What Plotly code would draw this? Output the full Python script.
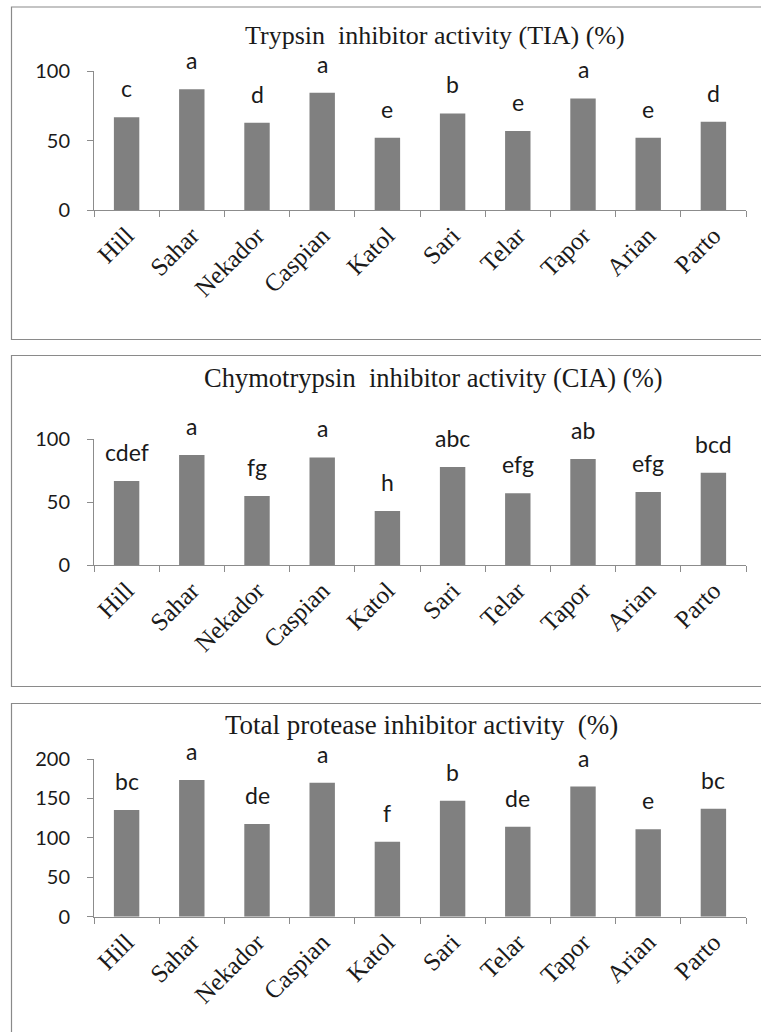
import plotly.graph_objects as go

W, H = 761, 1032

varieties = ["Hill", "Sahar", "Nekador", "Caspian", "Katol", "Sari", "Telar", "Tapor", "Arian", "Parto"]

tia_values = [66.7, 86.8, 62.8, 84.4, 52.0, 69.5, 56.8, 80.3, 52.0, 63.5]
tia_letters = ["c", "a", "d", "a", "e", "b", "e", "a", "e", "d"]

cia_values = [66.7, 87.3, 54.8, 85.4, 42.9, 77.8, 56.9, 84.1, 57.9, 73.3]
cia_letters = ["cdef", "a", "fg", "a", "h", "abc", "efg", "ab", "efg", "bcd"]

total_values = [135.4, 173.5, 117.6, 170.0, 95.2, 147.2, 114.2, 165.0, 110.9, 137.0]
total_letters = ["bc", "a", "de", "a", "f", "b", "de", "a", "e", "bc"]

titles = [
    "Trypsin  inhibitor activity (TIA) (%)",
    "Chymotrypsin  inhibitor activity (CIA) (%)",
    "Total protease inhibitor activity  (%)",
]
y_ranges = [[0, 100], [0, 100], [0, 200]]
y_ticks = [[0, 50, 100], [0, 50, 100], [0, 50, 100, 150, 200]]

# pixel geometry (top, bottom of plot area), title centre, title size, panel box
plot_px = [(71, 210), (439, 565), (759, 916.7)]
title_px = [(435, 36), (433, 378), (421, 725)]
title_size = [26, 26.5, 27]
box_px = [(7, 339.5), (355.5, 686.5), (703.5, 1045)]
x_px = (94, 746)

series = [(tia_values, tia_letters), (cia_values, cia_letters), (total_values, total_letters)]

BAR = "#808080"
AX = "#8c8c8c"
TXT = "#1a1a1a"
SERIF = "Liberation Serif, Times New Roman, serif"
SANS = "Lato, Open Sans, sans-serif"

fig = go.Figure()
layout = dict(
    template="none",
    width=W, height=H,
    margin=dict(l=0, r=0, t=0, b=0, pad=0),
    paper_bgcolor="white", plot_bgcolor="white",
    showlegend=False, bargap=0.61,
    annotations=[], shapes=[],
)

for i, ((vals, letters), title) in enumerate(zip(series, titles)):
    n = "" if i == 0 else str(i + 1)
    xa, ya = "x" + n, "y" + n
    fig.add_trace(go.Bar(
        x=varieties, y=vals, marker=dict(color=BAR, line=dict(width=0)),
        xaxis=xa, yaxis=ya, hoverinfo="skip",
    ))
    top, bot = plot_px[i]
    layout["xaxis" + n] = dict(
        domain=[x_px[0] / W, x_px[1] / W], anchor=ya, automargin=False,
        type="category", tickson="boundaries",
        showline=True, linecolor=AX, linewidth=1,
        ticks="outside", ticklen=6, tickcolor=AX, tickwidth=1,
        tickangle=-45, tickfont=dict(family=SERIF, size=25, color=TXT),
        showgrid=False, zeroline=False, fixedrange=True,
    )
    layout["yaxis" + n] = dict(
        domain=[1 - bot / H, 1 - top / H], anchor=xa, automargin=False,
        range=y_ranges[i], tickvals=y_ticks[i],
        showline=True, linecolor=AX, linewidth=1,
        ticks="outside", ticklen=6, tickcolor=AX, tickwidth=1,
        ticklabelstandoff=13,
        tickfont=dict(family=SANS, size=20, color=TXT),
        showgrid=False, zeroline=False, fixedrange=True,
    )
    for v, cat, lab in zip(vals, varieties, letters):
        layout["annotations"].append(dict(
            x=cat, y=v, xref=xa, yref=ya, text=lab, showarrow=False,
            yanchor="bottom", xanchor="center", yshift=13,
            font=dict(family=SANS, size=23, color=TXT),
        ))
    tx, ty = title_px[i]
    layout["annotations"].append(dict(
        x=tx / W, y=1 - ty / H, xref="paper", yref="paper", text=title,
        showarrow=False, xanchor="center", yanchor="middle",
        font=dict(family=SERIF, size=title_size[i], color=TXT),
    ))
    b0, b1 = box_px[i]
    layout["shapes"].append(dict(
        type="rect", xref="paper", yref="paper",
        x0=11.5 / W, x1=770 / W, y0=1 - b1 / H, y1=1 - b0 / H,
        line=dict(color="#8a8a8a", width=1.2), fillcolor="rgba(0,0,0,0)", layer="below",
    ))

fig.update_layout(**layout)
fig.write_html("out.html", config={"displayModeBar": False},
               post_script="document.body.style.margin='0';")
